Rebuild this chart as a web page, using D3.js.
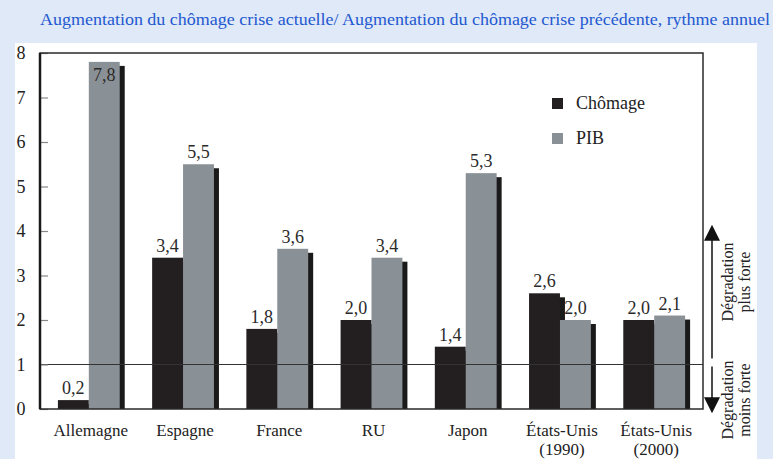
<!DOCTYPE html>
<html>
<head>
<meta charset="utf-8">
<script src="https://cdn.jsdelivr.net/npm/d3@7"></script>
<style>
  body { margin: 0; background: #dfe9f7; }
  svg { display: block; }
</style>
</head>
<body>
<div id="chart"></div>
<script>
const FONT = "Liberation Serif";

const title =
  "Augmentation du chômage crise actuelle/ Augmentation du chômage crise précédente, rythme annuel";

const countries = [
  ["Allemagne"],
  ["Espagne"],
  ["France"],
  ["RU"],
  ["Japon"],
  ["États-Unis", "(1990)"],
  ["États-Unis", "(2000)"],
];
const series = ["Chômage", "PIB"];
const chomage = [0.2, 3.4, 1.8, 2.0, 1.4, 2.6, 2.0];
const pib = [7.8, 5.5, 3.6, 3.4, 5.3, 2.0, 2.1];
const yTicks = [0, 1, 2, 3, 4, 5, 6, 7, 8];

const colors = { "Chômage": "#231f20", PIB: "#8a9196" };
const shadow = "#1b1a1a";

const W = 773,
  H = 459;
const margin = { top: 53, right: 70, bottom: 50, left: 40 };
const x0 = margin.left,
  x1 = W - margin.right,
  yTop = margin.top,
  yBot = H - margin.bottom;

const svg = d3
  .select("#chart")
  .append("svg")
  .attr("width", W)
  .attr("height", H);

// white panel
svg
  .append("rect")
  .attr("x", 15)
  .attr("y", 43)
  .attr("width", 742)
  .attr("height", H - 43)
  .attr("fill", "#fff");

// title
svg
  .append("text")
  .attr("x", 40)
  .attr("y", 25)
  .attr("font-size", 16)
  .attr("fill", "#2358d0")
  .attr("textLength", 730)
  .attr("lengthAdjust", "spacingAndGlyphs")
  .text(title);

const data = countries.map((c, i) => ({
  key: c.join(" "),
  label: c,
  values: [chomage[i], pib[i]],
}));

const x = d3
  .scaleBand()
  .domain(data.map((d) => d.key))
  .range([x0, x1])
  .paddingInner(0.344)
  .paddingOuter(0.19);

const xs = d3.scaleBand().domain(series).range([0, x.bandwidth()]);

const y = d3.scaleLinear().domain([0, 8]).range([yBot, yTop]);

const fmt = (v) => d3.format(".1f")(v).replace(".", ",");

// bars (with a drop shadow on the right)
const groups = svg
  .append("g")
  .selectAll("g")
  .data(data)
  .join("g")
  .attr("transform", (d) => `translate(${x(d.key)},0)`);

groups
  .selectAll("rect.shadow")
  .data((d) => d.values.map((v, i) => ({ s: series[i], v })))
  .join("rect")
  .attr("class", "shadow")
  .attr("x", (d) => xs(d.s) + 5)
  .attr("y", (d) => y(d.v) + 4)
  .attr("width", xs.bandwidth())
  .attr("height", (d) => yBot - y(d.v) - 4)
  .attr("fill", shadow);

groups
  .selectAll("rect.bar")
  .data((d) => d.values.map((v, i) => ({ s: series[i], v })))
  .join("rect")
  .attr("class", "bar")
  .attr("x", (d) => xs(d.s))
  .attr("y", (d) => y(d.v))
  .attr("width", xs.bandwidth())
  .attr("height", (d) => yBot - y(d.v))
  .attr("fill", (d) => colors[d.s]);

groups
  .selectAll("text.val")
  .data((d) => d.values.map((v, i) => ({ s: series[i], v })))
  .join("text")
  .attr("class", "val")
  .attr("x", (d) => xs(d.s) + xs.bandwidth() / 2)
  .attr("y", (d) => (d.v > 7.5 ? y(d.v) + 19 : y(d.v) - 6))
  .attr("text-anchor", "middle")
  .attr("font-size", 18)
  .attr("fill", "#2a2a2a")
  .text((d) => fmt(d.v));

// category labels
groups
  .selectAll("text.cat")
  .data((d) => d.label)
  .join("text")
  .attr("class", "cat")
  .attr("x", x.bandwidth() / 2 + 2)
  .attr("y", (d, i) => yBot + 27 + i * 19)
  .attr("text-anchor", "middle")
  .attr("font-size", 17)
  .attr("fill", "#222")
  .text((d) => d);

// reference line at 1
svg
  .append("line")
  .attr("x1", x0)
  .attr("x2", x1)
  .attr("y1", y(1))
  .attr("y2", y(1))
  .attr("stroke", "#333")
  .attr("stroke-width", 1.2);

// y axis
const yAxis = svg
  .append("g")
  .attr("transform", `translate(${x0},0)`)
  .call(d3.axisRight(y).tickValues(yTicks).tickSize(8).tickFormat(d3.format("d")));
yAxis.select(".domain").remove();
yAxis.selectAll(".tick line").attr("stroke", "#888").attr("stroke-width", 1.2);
yAxis
  .selectAll(".tick text")
  .attr("x", -19)
  .attr("text-anchor", "middle")
  .attr("font-size", 18)
  .attr("fill", "#222");

// frame
svg
  .append("rect")
  .attr("x", x0)
  .attr("y", yTop)
  .attr("width", x1 - x0)
  .attr("height", yBot - yTop)
  .attr("fill", "none")
  .attr("stroke", "#2a2a2a")
  .attr("stroke-width", 1.5);
svg
  .append("line")
  .attr("x1", x0)
  .attr("x2", x0)
  .attr("y1", yTop)
  .attr("y2", yBot)
  .attr("stroke", "#1a1a1a")
  .attr("stroke-width", 2.5);

// legend
const legend = svg.append("g").attr("transform", "translate(552,98)");
legend
  .selectAll("rect")
  .data(series)
  .join("rect")
  .attr("y", (d, i) => i * 35)
  .attr("width", 11)
  .attr("height", 11)
  .attr("fill", (d) => colors[d]);
legend
  .selectAll("text")
  .data(series)
  .join("text")
  .attr("x", 24)
  .attr("y", (d, i) => i * 35 + 11)
  .attr("font-size", 18)
  .attr("fill", "#222")
  .text((d) => d);

// arrows on the right
const ax = 712;
svg
  .append("defs")
  .append("marker")
  .attr("id", "head")
  .attr("viewBox", "0 0 10 10")
  .attr("refX", 3)
  .attr("refY", 5)
  .attr("markerWidth", 16)
  .attr("markerHeight", 16)
  .attr("orient", "auto")
  .attr("markerUnits", "userSpaceOnUse")
  .append("path")
  .attr("d", "M0,0L10,5L0,10Z")
  .attr("fill", "#111");

[
  [y(1) - 6, 236],
  [y(1) + 2, 402],
].forEach(([a, b]) => {
  svg
    .append("line")
    .attr("x1", ax)
    .attr("x2", ax)
    .attr("y1", a)
    .attr("y2", b)
    .attr("stroke", "#111")
    .attr("stroke-width", 1.5)
    .attr("marker-end", "url(#head)");
});

const notes = [
  { lines: ["Dégradation", "plus forte"], cy: 282 },
  { lines: ["Dégradation", "moins forte"], cy: 400 },
];
notes.forEach((n) => {
  const t = svg
    .append("text")
    .attr("transform", `translate(733,${n.cy}) rotate(-90)`)
    .attr("text-anchor", "middle")
    .attr("font-size", 16)
    .attr("fill", "#222");
  n.lines.forEach((l, i) => {
    t.append("tspan")
      .attr("x", 0)
      .attr("dy", i === 0 ? 0 : 17)
      .text(l);
  });
});

// serif everywhere
svg.selectAll("text").attr("font-family", FONT);
</script>
</body>
</html>
